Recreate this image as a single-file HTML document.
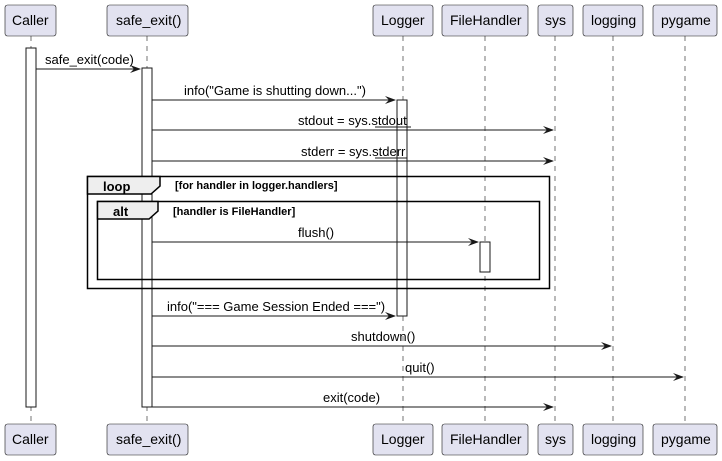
<!DOCTYPE html>
<html><head><meta charset="utf-8"><style>
html,body{margin:0;padding:0;background:#fff}
svg{display:block}
text{font-family:"Liberation Sans",sans-serif;font-size:13px;fill:#000}
.b{font-weight:bold}
</style></head><body>
<svg width="722" height="461" viewBox="0 0 722 461" xmlns="http://www.w3.org/2000/svg">
<g stroke="#181818" stroke-width="0.6" stroke-dasharray="5,5">
<line x1="31" y1="36" x2="31" y2="424"/>
<line x1="147" y1="36" x2="147" y2="424"/>
<line x1="403" y1="36" x2="403" y2="424"/>
<line x1="485" y1="36" x2="485" y2="424"/>
<line x1="555" y1="36" x2="555" y2="424"/>
<line x1="613" y1="36" x2="613" y2="424"/>
<line x1="685" y1="36" x2="685" y2="424"/>
</g>
<g fill="#E2E2F0" stroke="#181818" stroke-width="0.6">
<rect x="5" y="5" width="51" height="31" rx="2.5"/>
<rect x="107" y="5" width="81" height="31" rx="2.5"/>
<rect x="373" y="5" width="60" height="31" rx="2.5"/>
<rect x="442" y="5" width="86" height="31" rx="2.5"/>
<rect x="538" y="5" width="35" height="31" rx="2.5"/>
<rect x="583" y="5" width="60" height="31" rx="2.5"/>
<rect x="653" y="5" width="64" height="31" rx="2.5"/>
<rect x="5" y="424" width="51" height="31" rx="2.5"/>
<rect x="107" y="424" width="81" height="31" rx="2.5"/>
<rect x="373" y="424" width="60" height="31" rx="2.5"/>
<rect x="442" y="424" width="86" height="31" rx="2.5"/>
<rect x="538" y="424" width="35" height="31" rx="2.5"/>
<rect x="583" y="424" width="60" height="31" rx="2.5"/>
<rect x="653" y="424" width="64" height="31" rx="2.5"/>
</g>
<g font-size="14">
<text x="12" y="25" style="font-size:14px">Caller</text>
<text x="116" y="25" style="font-size:14px">safe_exit()</text>
<text x="381" y="25" style="font-size:14px">Logger</text>
<text x="450" y="25" style="font-size:14px">FileHandler</text>
<text x="545" y="25" style="font-size:14px">sys</text>
<text x="591" y="25" style="font-size:14px">logging</text>
<text x="661" y="25" style="font-size:14px">pygame</text>
<text x="12" y="444" style="font-size:14px">Caller</text>
<text x="116" y="444" style="font-size:14px">safe_exit()</text>
<text x="381" y="444" style="font-size:14px">Logger</text>
<text x="450" y="444" style="font-size:14px">FileHandler</text>
<text x="545" y="444" style="font-size:14px">sys</text>
<text x="591" y="444" style="font-size:14px">logging</text>
<text x="661" y="444" style="font-size:14px">pygame</text>
</g>
<g fill="#fff" stroke="#181818" stroke-width="1">
<rect x="26" y="48" width="10" height="359"/>
<rect x="142" y="68" width="10" height="339"/>
<rect x="397" y="100" width="10" height="216"/>
<rect x="480" y="242" width="10" height="30"/>
</g>
<!-- loop frame -->
<g stroke="#000" fill="none" stroke-width="1.5">
<rect x="87.5" y="176.5" width="462" height="112"/>
<rect x="97.5" y="201.5" width="442" height="78"/>
</g>
<path d="M87.5 176.5 H160 V186 L151 194 H87.5 Z" fill="#EEEEEE" stroke="#000" stroke-width="1.5"/>
<path d="M97.5 201.5 H158 V211 L149 219 H97.5 Z" fill="#EEEEEE" stroke="#000" stroke-width="1.5"/>
<text x="103" y="191" class="b">loop</text>
<text x="113" y="216" class="b">alt</text>
<text x="175" y="189" class="b" style="font-size:11px">[for handler in logger.handlers]</text>
<text x="173" y="215" class="b" style="font-size:11px">[handler is FileHandler]</text>
<!-- messages -->
<g stroke="#181818" stroke-width="1">
<line x1="36" y1="69" x2="140" y2="69"/>
<line x1="152" y1="100" x2="395" y2="100"/>
<line x1="152" y1="130" x2="553" y2="130"/>
<line x1="152" y1="161" x2="553" y2="161"/>
<line x1="152" y1="242" x2="478" y2="242"/>
<line x1="152" y1="316" x2="395" y2="316"/>
<line x1="152" y1="346" x2="611" y2="346"/>
<line x1="152" y1="377" x2="683" y2="377"/>
<line x1="152" y1="407" x2="553" y2="407"/>
<line x1="375" y1="127" x2="411" y2="127"/>
<line x1="375" y1="158" x2="407" y2="158"/>
</g>
<g fill="#181818">
<polygon points="130,65 141,69 130,73 134,69"/>
<polygon points="385,96 396,100 385,104 389,100"/>
<polygon points="543,126 554,130 543,134 547,130"/>
<polygon points="543,157 554,161 543,165 547,161"/>
<polygon points="468,238 479,242 468,246 472,242"/>
<polygon points="385,312 396,316 385,320 389,316"/>
<polygon points="601,342 612,346 601,350 605,346"/>
<polygon points="673,373 684,377 673,381 677,377"/>
<polygon points="543,403 554,407 543,411 547,407"/>
</g>
<text x="45" y="64">safe_exit(code)</text>
<text x="184" y="95">info("Game is shutting down...")</text>
<text x="298" y="125">stdout = sys.stdout</text>
<text x="301" y="156">stderr = sys.stderr</text>
<text x="298" y="237">flush()</text>
<text x="167" y="311">info("=== Game Session Ended ===")</text>
<text x="351" y="341">shutdown()</text>
<text x="405" y="372">quit()</text>
<text x="323" y="402">exit(code)</text>
</svg>
</body></html>
